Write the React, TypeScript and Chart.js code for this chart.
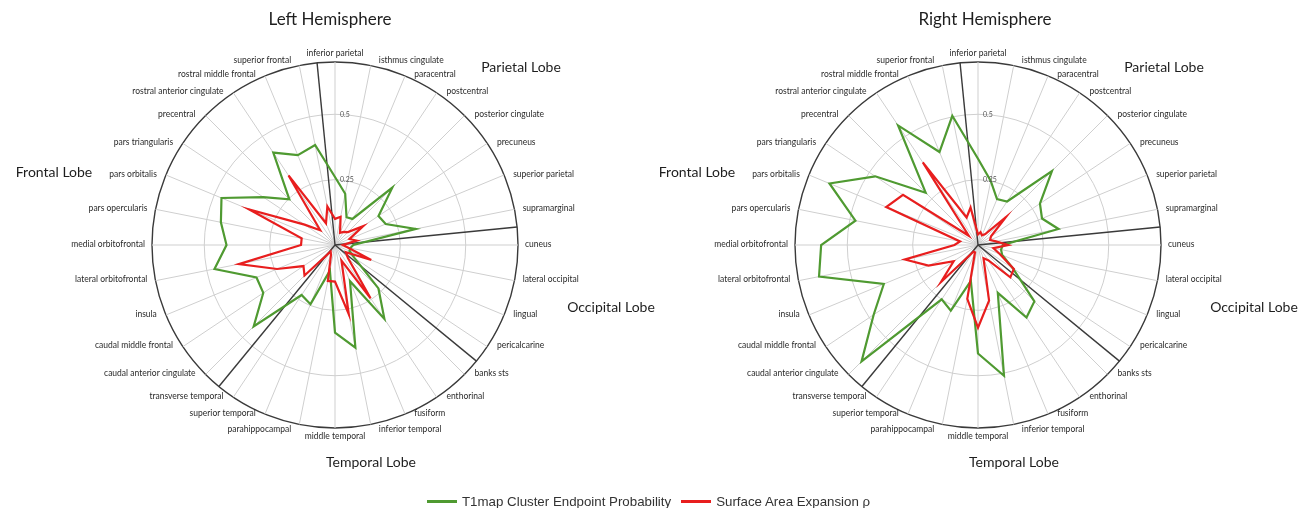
import React, { useEffect, useRef } from "react";
import { Chart, registerables } from "chart.js";

Chart.register(...registerables);

// ---- data ----
const regions = [
  "inferior parietal", "isthmus cingulate", "paracentral", "postcentral",
  "posterior cingulate", "precuneus", "superior parietal", "supramarginal",
  "cuneus", "lateral occipital", "lingual", "pericalcarine",
  "banks sts", "enthorinal", "fusiform", "inferior temporal",
  "middle temporal", "parahippocampal", "superior temporal", "transverse temporal",
  "caudal anterior cingulate", "caudal middle frontal", "insula", "lateral orbitofrontal",
  "medial orbitofrontal", "pars opercularis", "pars orbitalis", "pars triangularis",
  "precentral", "rostral anterior cingulate", "rostral middle frontal", "superior frontal",
];

const leftT1 = [0.26, 0.2, 0.115, 0.12, 0.31, 0.2, 0.21, 0.315, 0.07, 0.06, 0.06, 0.09, 0.235, 0.34, 0.15, 0.4, 0.335, 0.1, 0.245, 0.23, 0.44, 0.33, 0.325, 0.47, 0.415, 0.445, 0.47, 0.33, 0.247, 0.425, 0.372, 0.39];
const leftSA = [0.1, 0.11, 0.05, 0.06, 0.07, 0.13, 0.06, 0.085, 0.03, 0.05, 0.15, 0.05, 0.07, 0.245, 0.065, 0.27, 0.14, 0.14, 0.04, 0.03, 0.165, 0.145, 0.24, 0.375, 0.13, 0.13, 0.355, 0.14, 0.08, 0.32, 0.09, 0.15];
const rightT1 = [0.33, 0.25, 0.19, 0.2, 0.4, 0.285, 0.265, 0.314, 0.095, 0.09, 0.1, 0.16, 0.305, 0.334, 0.198, 0.51, 0.415, 0.14, 0.272, 0.25, 0.63, 0.48, 0.39, 0.62, 0.6, 0.478, 0.615, 0.473, 0.283, 0.55, 0.385, 0.504];
const rightSA = [0.04, 0.05, 0.04, 0.05, 0.15, 0.06, 0.05, 0.07, 0.115, 0.06, 0.09, 0.165, 0.175, 0.07, 0.055, 0.217, 0.316, 0.21, 0.03, 0.03, 0.2, 0.112, 0.205, 0.285, 0.09, 0.07, 0.38, 0.345, 0.05, 0.38, 0.114, 0.146];

const tickValues = [0.25, 0.5];
const scaleMax = 0.7;
const lobeNames = ["Parietal Lobe", "Occipital Lobe", "Temporal Lobe", "Frontal Lobe"];
const lobeStarts = [0, 8, 12, 20];
const seriesNames = ["T1map Cluster Endpoint Probability", "Surface Area Expansion \u03c1"];
const hemisphereTitles = ["Left Hemisphere", "Right Hemisphere"];

// ---- styles ----
const GREEN = "#4f9a31";
const RED = "#e81e1e";
const LABEL_FONT = "Lato";
const lobeOffsets = [
  [186, -178],
  [276, 62],
  [36, 217],
  [-281, -73],
];

type Panel = {
  title: string;
  titleDx: number;
  t1: number[];
  sa: number[];
  left: number;
  width: number;
  pad: { left: number; right: number; top: number; bottom: number };
};

const R = 183.4;
const CY = 245.7;

const panels: Panel[] = [
  {
    title: hemisphereTitles[0],
    titleDx: -5,
    t1: leftT1,
    sa: leftSA,
    left: 0,
    width: 662,
    pad: { left: 335 - R, right: 662 - (335 + R), top: CY - R, bottom: 508 - (CY + R) },
  },
  {
    title: hemisphereTitles[1],
    titleDx: 7,
    t1: rightT1,
    sa: rightSA,
    left: 652,
    width: 661,
    pad: { left: 326 - R, right: 661 - (326 + R), top: CY - R, bottom: 508 - (CY + R) },
  },
];

function makeDecor(panel: Panel) {
  return {
    id: "decor",
    beforeDatasetsDraw(chart: any) {
      const scale = chart.scales.r;
      const ctx = chart.ctx;
      const rad = scale.drawingArea;
      const cx = scale.xCenter;
      const cy = scale.yCenter;
      ctx.save();
      ctx.strokeStyle = "#3a3a3a";
      ctx.lineWidth = 1.4;
      lobeStarts.forEach((k) => {
        const p = scale.getPointPosition(k - 0.5, rad);
        ctx.beginPath();
        ctx.moveTo(cx, cy);
        ctx.lineTo(p.x, p.y);
        ctx.stroke();
      });
      ctx.restore();
    },
    afterDraw(chart: any) {
      const scale = chart.scales.r;
      const ctx = chart.ctx;
      const rad = scale.drawingArea;
      const cx = scale.xCenter;
      const cy = scale.yCenter;
      const n = regions.length;
      ctx.save();
      // tick labels
      ctx.fillStyle = "#555";
      ctx.font = `7px ${LABEL_FONT}`;
      ctx.textAlign = "left";
      ctx.textBaseline = "middle";
      tickValues.forEach((v) => {
        const d = scale.getDistanceFromCenterForValue(v);
        ctx.fillText(String(v), cx + 5, cy - d);
      });
      // point labels
      ctx.fillStyle = "#2a2a2a";
      ctx.font = `8.5px ${LABEL_FONT}`;
      ctx.textBaseline = "middle";
      for (let i = 0; i < n; i++) {
        const p = scale.getPointPosition(i, rad);
        const th = (i / n) * Math.PI * 2;
        const s = Math.sin(th);
        const c = Math.cos(th);
        const gx = 7 + 3 * Math.abs(Math.sin(2 * th));
        let x = p.x;
        let y = p.y;
        let align: CanvasTextAlign = "center";
        if (Math.abs(s) < 0.05) {
          y += c > 0 ? -9 : 8;
        } else {
          align = s > 0 ? "left" : "right";
          x += s > 0 ? gx : -gx;
          if (c > 0.97) y -= 5;
          else if (c < -0.97) y += 4.5;
          else y -= 1.2;
        }
        ctx.textAlign = align;
        ctx.fillText(regions[i], x, y);
      }
      // lobe labels
      ctx.fillStyle = "#1e1e1e";
      ctx.font = `14px ${LABEL_FONT}`;
      ctx.textAlign = "center";
      lobeNames.forEach((name, j) => {
        ctx.fillText(name, cx + lobeOffsets[j][0], cy + lobeOffsets[j][1]);
      });
      // title
      ctx.font = `17px ${LABEL_FONT}`;
      ctx.fillText(panel.title, cx + panel.titleDx, cy - 225.7);
      ctx.restore();
    },
  };
}

function RadarPanel({ panel }: { panel: Panel }) {
  const ref = useRef<HTMLCanvasElement | null>(null);
  useEffect(() => {
    if (!ref.current) return;
    const chart = new Chart(ref.current, {
      type: "radar",
      data: {
        labels: regions,
        datasets: [
          {
            label: seriesNames[0],
            data: panel.t1,
            borderColor: GREEN,
            backgroundColor: "transparent",
            borderWidth: 2.2,
            pointRadius: 0,
            fill: false,
            order: 2,
          },
          {
            label: seriesNames[1],
            data: panel.sa,
            borderColor: RED,
            backgroundColor: "transparent",
            borderWidth: 2.2,
            pointRadius: 0,
            fill: false,
            order: 1,
          },
        ],
      },
      options: {
        animation: false,
        responsive: false,
        maintainAspectRatio: false,
        layout: { padding: panel.pad },
        plugins: { legend: { display: false }, tooltip: { enabled: false }, title: { display: false } },
        elements: { line: { tension: 0 } },
        scales: {
          r: {
            min: 0,
            max: scaleMax,
            ticks: { display: false, stepSize: 0.25 },
            pointLabels: { display: false },
            angleLines: { color: "#cfcfcf", lineWidth: 1 },
            grid: {
              circular: true,
              color: (c: any) => (c.tick && c.tick.value >= scaleMax - 1e-9 ? "#3a3a3a" : "#cfcfcf"),
              lineWidth: (c: any) => (c.tick && c.tick.value >= scaleMax - 1e-9 ? 1.4 : 1),
            },
          },
        },
      },
      plugins: [makeDecor(panel)],
    });
    return () => chart.destroy();
  }, [panel]);
  return (
    <canvas
      ref={ref}
      width={panel.width}
      height={508}
      style={{ position: "absolute", left: panel.left, top: 0, width: panel.width, height: 508 }}
    />
  );
}

function LegendItem({ color, text }: { color: string; text: string }) {
  return (
    <div style={{ display: "flex", alignItems: "center", marginRight: 10 }}>
      <div style={{ width: 30, height: 3, background: color, marginRight: 5 }} />
      <span>{text}</span>
    </div>
  );
}

export default function App() {
  return (
    <div style={{ position: "absolute", left: 0, top: 0, width: 1313, height: 508, background: "#fff", overflow: "hidden" }}>
      {panels.map((p, i) => (
        <RadarPanel key={i} panel={p} />
      ))}
      <div
        style={{
          position: "absolute",
          left: 427,
          top: 493,
          display: "flex",
          alignItems: "center",
          fontFamily: "'Liberation Sans', Arial, sans-serif",
          fontSize: 13.3,
          color: "#333",
          whiteSpace: "nowrap",
          lineHeight: "17px",
        }}
      >
        <LegendItem color={GREEN} text={seriesNames[0]} />
        <LegendItem color={RED} text={seriesNames[1]} />
      </div>
    </div>
  );
}
